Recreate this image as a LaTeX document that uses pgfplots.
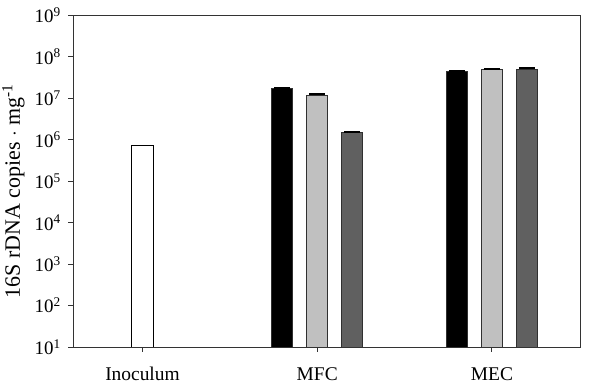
\documentclass[border=0pt]{standalone}
\usepackage{fontspec}
\setmainfont{Liberation Serif}
\usepackage{pgfplots}
\pgfplotsset{compat=1.18}

\definecolor{barlight}{HTML}{C0C0C0}
\definecolor{bardark}{HTML}{606060}
\definecolor{baredge}{HTML}{303030}

\begin{document}
\fontsize{19}{22}\selectfont
\begin{tikzpicture}
\useasboundingbox (0,0) rectangle (610bp,392bp);
\begin{axis}[
  at={(73.3bp,45bp)}, anchor=south west,
  scale only axis, width=506.7bp, height=331.7bp,
  ymode=log, log origin=infty,
  ymin=10, ymax=1e9,
  xmin=-0.396, xmax=2.504,
  xtick={0,1,2}, xticklabels={Inoculum,MFC,MEC},
  ytick={1e1,1e2,1e3,1e4,1e5,1e6,1e7,1e8,1e9},
  yticklabels={10\textsuperscript{1},10\textsuperscript{2},10\textsuperscript{3},10\textsuperscript{4},10\textsuperscript{5},10\textsuperscript{6},10\textsuperscript{7},10\textsuperscript{8},10\textsuperscript{9}},
  minor tick num=0, yminorticks=false,
  tick align=outside, major tick length=5bp,
  xtick pos=bottom, ytick pos=left,
  axis line style={line width=0.9pt, black!80},
  tick style={line width=0.9pt, black!80},
  yticklabel style={xshift=-1bp},
  xticklabel style={font=\fontsize{19.5}{23}\selectfont, yshift=-9bp},
  ylabel={16S rDNA copies $\cdot$ mg\textsuperscript{-1}},
  ylabel style={at={(axis description cs:-0.118,0.47)}, anchor=center,
    font=\fontsize{22}{26}\selectfont},
  every axis plot/.append style={line width=0.7pt},
  error bars/error bar style={line width=1.5pt, black},
  error bars/error mark options={rotate=90, mark size=8bp, line width=1.8pt, black},
]
% Inoculum
\addplot[ybar, bar width=21.5bp, bar shift=0pt, fill=white, draw=black, line width=0.9pt]
  coordinates {(0,7.4e5)};
% MFC and MEC, three bars per reactor
\addplot[ybar, bar width=21bp, bar shift=0pt, fill=black, draw=baredge,
  error bars/.cd, y dir=plus, y explicit]
  coordinates {(0.8,1.75e7) +- (0,0.04e7) (1.8,4.4e7) +- (0,0.08e7)};
\addplot[ybar, bar width=21bp, bar shift=0pt, fill=barlight, draw=baredge,
  error bars/.cd, y dir=plus, y explicit]
  coordinates {(1,1.18e7) +- (0,0.08e7) (2,4.85e7) +- (0,0.2e7)};
\addplot[ybar, bar width=21bp, bar shift=0pt, fill=bardark, draw=baredge,
  error bars/.cd, y dir=plus, y explicit]
  coordinates {(1.2,1.52e6) +- (0,0.04e6) (2.2,5.05e7) +- (0,0.2e7)};
\end{axis}
\end{tikzpicture}
\end{document}
